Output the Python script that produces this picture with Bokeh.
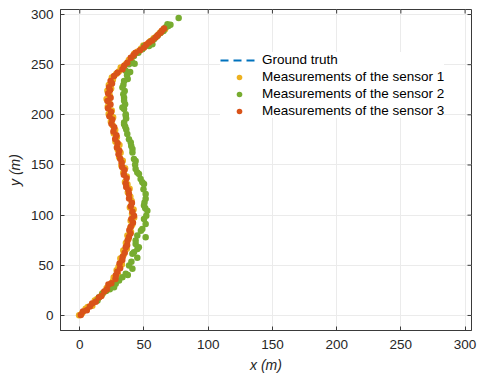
import math
from bokeh.plotting import figure
from bokeh.models import Range1d, Legend, LegendItem, FixedTicker
from bokeh.embed import file_html
from bokeh.resources import INLINE

# ---------------- data ----------------
tick_values = [0, 50, 100, 150, 200, 250, 300]
axis_min, axis_max = -15, 305

gt_x = [0, 3.5, 7, 10, 13, 16, 19.5, 23, 25.5, 27.5, 29.5, 31, 32.3, 33.5, 34.8, 36, 37, 38, 39, 39.8,
        40.3, 40.5, 40.3, 39.8, 39, 38.3, 37.5, 36.7, 35.8, 34.9, 34, 33, 32, 31, 30, 29.2, 28.3, 27.5,
        26.5, 25.5, 24.5, 23.7, 23, 22.7, 22.6, 22.8, 23.3, 24.3, 25.8, 28, 31.5, 35.5, 39, 42.5,
        46.5, 50.5, 54, 58, 61.5, 64.5, 66.5]
gt_y = [0, 4, 8, 12, 16, 20, 25, 30, 35, 40, 45, 50, 55, 60, 65, 70, 75, 80, 85, 90,
        95, 100, 105, 110, 115, 120, 125, 130, 135, 140, 145, 150, 155, 160, 165, 170, 175, 180,
        185, 190, 195, 200, 205, 210, 215, 220, 225, 230, 235, 240, 245, 250, 255, 260,
        264, 268, 272, 276, 280, 284, 287]

s1_x = [-0.5, 1.8, 4.6, 6.2, 9.8, 11.7, 13.2, 17.4, 18.0, 20.9, 23.5, 25.9, 26.4, 29.8, 28.7, 30.2, 32.8,
        31.6, 34.1, 33.9, 36.6, 35.9, 38.0, 37.1, 39.9, 39.3, 40.8, 39.6, 42.4, 40.7, 41.9, 39.0, 40.4,
        39.4, 37.4, 38.8, 37.1, 35.2, 36.6, 33.9, 35.3, 32.4, 33.5, 30.7, 31.8, 29.6, 30.9, 27.8, 28.9,
        26.5, 27.6, 25.7, 24.2, 26.0, 22.5, 24.9, 21.8, 22.9, 20.9, 23.3, 21.5, 24.4, 22.6, 25.8, 25.0,
        28.3, 30.4, 31.9, 35.8, 38.2, 40.3, 42.4, 45.2, 47.8, 49.5, 52.8, 55.1, 57.6, 59.9, 62.1, 63.6,
        66.4]
s1_y = [0.2, 2.1, 6.8, 8.4, 9.7, 14.9, 16.1, 21.3, 22.5, 27.4, 29.2, 34.4, 37.9, 40.6, 45.1, 48.6, 50.9,
        56.7, 60.3, 64.8, 66.5, 72.2, 76.4, 79.8, 83.3, 87.1, 90.2, 94.5, 97.7, 101.3, 105.6, 107.7, 114.0,
        118.3, 122.9, 126.4, 130.8, 133.1, 138.5, 142.6, 146.7, 149.6, 154.2, 157.8, 162.3, 165.3, 169.8,
        173.2, 177.6, 181.3, 185.0, 189.4, 193.2, 197.5, 200.8, 204.2, 208.0, 212.5, 215.9, 219.6, 223.9,
        226.3, 229.7, 234.9, 237.2, 240.6, 243.1, 247.2, 250.3, 254.6, 255.9, 260.8, 263.1, 266.2, 269.1,
        270.7, 273.6, 276.4, 278.3, 281.2, 283.3, 285.2]

s2_x = [13.8, 15.0, 17.6, 20.5, 23.4, 26.7, 28.0, 30.6, 33.2, 35.8, 37.4, 41.0, 38.4, 40.2, 44.8, 41.0,
        42.2, 44.9, 46.0, 43.5, 43.5, 44.8, 51.3, 48.7, 47.6, 51.3, 50.0, 51.8, 52.6, 51.0, 50.0, 50.4,
        51.3, 51.3, 49.6, 50.0, 48.7, 47.4, 46.1, 44.8, 43.5, 43.1, 43.5, 42.2, 41.0, 41.0, 40.1, 39.7,
        38.3, 37.0, 36.2, 35.4, 34.5, 34.5, 35.8, 36.1, 35.8, 34.5, 33.2, 35.3, 34.5, 34.5, 33.9, 35.0,
        33.2, 34.0, 34.5, 37.3, 36.8, 35.8, 39.2, 38.3, 41.0, 42.7, 42.2, 45.6, 48.7, 50.0, 53.9, 56.5,
        55.1, 57.8, 60.4, 62.8, 65.2, 67.0, 69.0, 70.6, 68.3, 77.0]
s2_y = [15.0, 18.2, 21.6, 24.3, 26.1, 28.2, 31.5, 34.9, 38.1, 41.5, 40.3, 46.5, 49.8, 53.6, 57.4, 61.4,
        63.0, 66.2, 68.0, 71.3, 74.6, 79.6, 78.0, 86.3, 84.5, 91.2, 96.2, 99.4, 104.5, 106.8, 109.5, 112.7,
        116.4, 121.0, 125.8, 131.0, 132.7, 136.1, 141.0, 142.6, 146.0, 150.2, 154.0, 155.9, 162.5, 165.9,
        169.0, 172.4, 175.6, 180.8, 185.3, 188.1, 190.7, 192.3, 199.0, 196.3, 200.7, 205.7, 207.3, 210.5,
        214.0, 217.0, 220.6, 223.8, 227.2, 230.1, 233.8, 235.6, 239.4, 244.0, 242.6, 250.4, 252.0, 250.9,
        258.7, 261.8, 265.4, 268.7, 268.7, 270.3, 272.9, 275.3, 278.6, 281.5, 283.6, 287.2, 288.6, 289.8,
        290.4, 296.5]

s3_x = [0.8, 2.5, 5.5, 7.8, 9.6, 12.4, 14.9, 16.8, 19.1, 21.2, 22.3, 24.6, 27.8, 28.1, 29.3, 31.4, 31.0,
        33.1, 33.4, 35.0, 35.8, 36.9, 37.2, 38.3, 39.5, 38.6, 39.7, 41.4, 40.2, 42.2, 41.0, 39.7, 40.6,
        38.4, 38.3, 37.9, 36.2, 35.8, 36.4, 34.3, 34.8, 33.0, 32.6, 31.5, 30.2, 30.8, 28.9, 29.4, 27.6,
        28.5, 26.2, 26.8, 24.7, 25.3, 23.1, 24.4, 22.0, 23.9, 21.6, 24.0, 22.1, 23.5, 22.8, 25.1, 24.0,
        26.7, 29.3, 33.2, 34.6, 37.0, 39.7, 41.8, 43.5, 46.9, 50.0, 51.7, 53.9, 56.4, 59.0, 60.9, 63.0,
        64.2, 65.6]
s3_y = [0.5, 4.0, 5.2, 8.9, 11.8, 13.6, 17.8, 19.4, 23.9, 26.0, 30.8, 32.1, 36.3, 40.2, 43.6, 47.0, 51.8,
        55.2, 58.6, 62.4, 67.9, 70.3, 74.8, 78.1, 81.6, 85.0, 88.4, 92.3, 96.1, 99.5, 103.4, 108.9, 112.2,
        116.5, 121.0, 124.7, 128.1, 131.5, 136.8, 140.2, 144.9, 148.0, 152.4, 156.3, 160.6, 164.1, 167.5,
        171.9, 176.0, 179.7, 183.4, 187.6, 191.0, 195.4, 198.7, 202.9, 206.5, 210.2, 213.8, 217.0, 221.3,
        224.6, 227.5, 231.2, 233.8, 238.8, 242.0, 245.5, 248.9, 252.0, 257.0, 259.4, 262.0, 264.3, 267.0,
        269.8, 272.0, 274.1, 277.0, 279.6, 282.0, 284.1, 286.0]

labels = ["Ground truth", "Measurements of the sensor 1",
          "Measurements of the sensor 2", "Measurements of the sensor 3"]

# ---------------- style ----------------
FONT = "Liberation Sans"
AX_COLOR = "#3a3a3a"
TXT_COLOR = "#262626"
C_GT = "#0072BD"
C1 = "#EDB120"
C2 = "#77AC30"
C3 = "#D95319"

p = figure(frame_width=411, frame_height=321, output_backend="svg", toolbar_location=None,
           x_range=Range1d(axis_min, axis_max), y_range=Range1d(axis_min, axis_max),
           min_border_left=60, min_border_right=7, min_border_top=9, min_border_bottom=51,
           background_fill_color="white", border_fill_color="white")
p.outline_line_color = AX_COLOR
p.outline_line_width = 1

for ax in (p.xaxis[0], p.yaxis[0]):
    ax.ticker = FixedTicker(ticks=tick_values)
    ax.major_tick_in = 4
    ax.major_tick_out = 0
    ax.minor_tick_in = 0
    ax.minor_tick_out = 0
    ax.axis_line_color = AX_COLOR
    ax.major_tick_line_color = AX_COLOR
    ax.major_label_text_font = FONT
    ax.major_label_text_font_size = "13.5px"
    ax.major_label_text_color = TXT_COLOR
    ax.axis_label_text_font = FONT
    ax.axis_label_text_font_size = "14px"
    ax.axis_label_text_font_style = "italic"
    ax.axis_label_text_color = TXT_COLOR

p.xaxis.axis_label = "x (m)"
p.yaxis.axis_label = "y (m)"
p.xaxis.major_label_standoff = 9
p.yaxis.major_label_standoff = 7
p.xaxis.axis_label_standoff = 5
p.yaxis.axis_label_standoff = 5

for g in (p.xgrid[0], p.ygrid[0]):
    g.ticker = FixedTicker(ticks=tick_values)
    g.grid_line_color = "#ebebeb"
    g.grid_line_width = 1

# inward ticks on the top and right edges of the box (clipped to the frame)
p.scatter(tick_values, [axis_max] * len(tick_values), marker="dash", angle=math.pi / 2,
          size=8, line_color=AX_COLOR, line_width=1)
p.scatter([axis_max] * len(tick_values), tick_values, marker="dash", angle=0,
          size=8, line_color=AX_COLOR, line_width=1)

gt = p.line(gt_x, gt_y, line_color=C_GT, line_width=2, line_dash="8 5")
r1 = p.scatter(s1_x, s1_y, marker="circle", size=6.5, fill_color=C1, line_color=None)
r2 = p.scatter(s2_x, s2_y, marker="circle", size=6.5, fill_color=C2, line_color=None)
r3 = p.scatter(s3_x, s3_y, marker="circle", size=6.5, fill_color=C3, line_color=None)

legend = Legend(items=[LegendItem(label=labels[0], renderers=[gt]),
                       LegendItem(label=labels[1], renderers=[r1]),
                       LegendItem(label=labels[2], renderers=[r2]),
                       LegendItem(label=labels[3], renderers=[r3])],
                location=(160, 212), padding=4, margin=0, spacing=2,
                glyph_width=38, glyph_height=14, label_height=14, label_standoff=4,
                label_text_font=FONT, label_text_font_size="13.5px", label_text_color="black",
                border_line_color=None, background_fill_color="white", background_fill_alpha=1.0)
p.add_layout(legend, "center")

open("out.html", "w").write(file_html(p, INLINE))
